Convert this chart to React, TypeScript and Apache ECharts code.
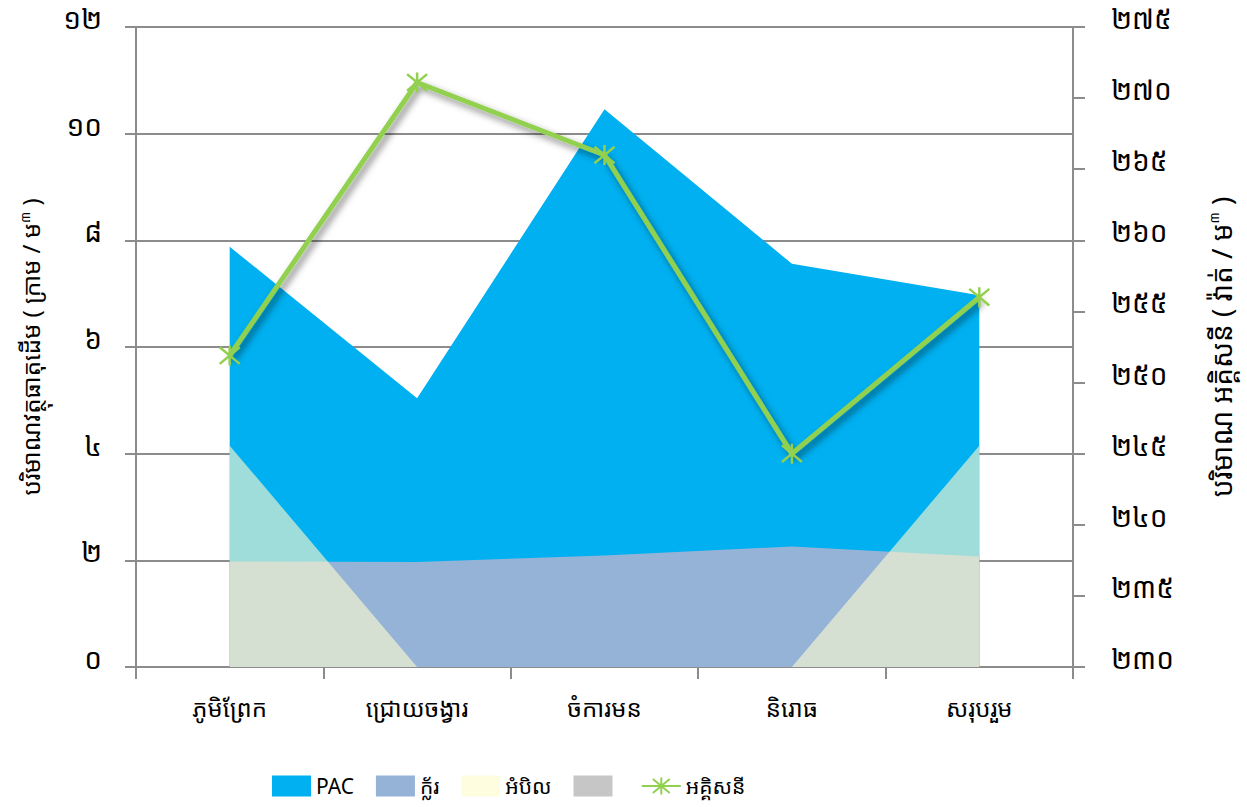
import React, { useEffect, useRef } from "react";
import * as echarts from "echarts";

const categories = ["ភូមិព្រែក", "ជ្រោយចង្វារ", "ចំការមន", "និរោធ", "សរុបរួម"];
const pacValues = [7.88, 5.04, 10.46, 7.56, 6.97];
const chlorineValues = [1.98, 1.97, 2.09, 2.26, 2.07];
const saltValues = [4.15, 0, 0, 0, 4.15];
const otherValues: (number | null)[] = [null, null, null, null, null];
const electricityValues = [251.9, 271.1, 266.0, 245.0, 256.0];

const khmerDigits = ["០", "១", "២", "៣", "៤", "៥", "៦", "៧", "៨", "៩"];
const toKhmer = (v: number) => String(v).split("").map((c) => khmerDigits[+c] ?? c).join("");

const FONT = "'Noto Sans Khmer', 'Khmer OS', 'Noto Sans', sans-serif";
const GRAY = "#8c8c8c";
const ASTERISK = "path://M0,0L10,10M10,0L0,10M5,-1L5,11";
const OTHER_NAME = "\u200A";

export default function App() {
  const ref = useRef<HTMLDivElement>(null);
  useEffect(() => {
    const chart = echarts.init(ref.current!, undefined, { renderer: "svg" });
    const nameRich = { sup: { fontSize: 13, verticalAlign: "top", fontFamily: FONT, color: "#000", padding: [0, 0, 10, 0] } };
    chart.setOption({
      animation: false,
      backgroundColor: "#ffffff",
      grid: { left: 136, right: 174, top: 27, bottom: 140, containLabel: false },
      legend: {
        left: 267,
        top: 768,
        itemWidth: 39,
        itemHeight: 21,
        itemGap: 22,
        textStyle: { fontSize: 21, lineHeight: 26, color: "#000", fontFamily: FONT },
        data: [
          { name: "PAC", icon: "rect" },
          { name: "ក្ល័រ", icon: "rect" },
          { name: "អំបិល", icon: "rect" },
          { name: OTHER_NAME, icon: "rect" },
          { name: "អគ្គិសនី" },
        ],
      },
      xAxis: {
        type: "category",
        data: categories,
        boundaryGap: true,
        axisLine: { lineStyle: { color: GRAY, width: 2 } },
        axisTick: { show: true, length: 12, lineStyle: { color: GRAY, width: 2 } },
        axisLabel: { fontSize: 24, color: "#000", margin: 28, fontFamily: FONT },
        splitLine: { show: false },
      },
      yAxis: [
        {
          type: "value",
          min: 0,
          max: 12,
          interval: 2,
          position: "left",
          name: "បរិមាណវត្ថុធាតុដើម ( ក្រាម / ម{sup|៣} )",
          nameLocation: "middle",
          nameRotate: 90,
          nameGap: 94,
          nameTextStyle: { fontSize: 24, color: "#000", fontFamily: FONT, rich: nameRich },
          axisLine: { show: true, lineStyle: { color: GRAY, width: 2 } },
          axisTick: { show: true, length: 11, lineStyle: { color: GRAY, width: 2 } },
          axisLabel: {
            fontSize: 28,
            color: "#000",
            margin: 34,
            fontFamily: FONT,
            verticalAlign: "bottom",
            lineHeight: 18,
            formatter: (v: number) => toKhmer(v),
          },
          splitLine: { show: true, lineStyle: { color: GRAY, width: 2 } },
        },
        {
          type: "value",
          min: 230,
          max: 275,
          interval: 5,
          position: "right",
          name: "បរិមាណ អគ្គិសនី ( វ៉ាត់ / ម{sup|៣} )",
          nameLocation: "middle",
          nameRotate: 90,
          nameGap: 134,
          nameTextStyle: { fontSize: 28, color: "#000", fontFamily: FONT, rich: nameRich },
          axisLine: { show: true, lineStyle: { color: GRAY, width: 2 } },
          axisTick: { show: true, length: 12, lineStyle: { color: GRAY, width: 2 } },
          axisLabel: {
            fontSize: 28,
            color: "#000",
            margin: 38,
            fontFamily: FONT,
            verticalAlign: "bottom",
            lineHeight: 18,
            formatter: (v: number) => toKhmer(v),
          },
          splitLine: { show: false },
        },
      ],
      series: [
        {
          name: "PAC",
          type: "line",
          data: pacValues,
          symbol: "none",
          lineStyle: { width: 0 },
          itemStyle: { color: "#00B0F0" },
          areaStyle: { color: "#00B0F0", opacity: 1 },
          z: 1,
        },
        {
          name: "ក្ល័រ",
          type: "line",
          data: chlorineValues,
          symbol: "none",
          lineStyle: { width: 0 },
          itemStyle: { color: "#95B3D7" },
          areaStyle: { color: "#95B3D7", opacity: 1 },
          z: 2,
        },
        {
          name: "អំបិល",
          type: "line",
          data: saltValues,
          symbol: "none",
          lineStyle: { width: 0 },
          itemStyle: { color: "#FEFDE0" },
          areaStyle: { color: "rgb(248,247,207)", opacity: 0.64 },
          z: 3,
        },
        {
          name: OTHER_NAME,
          type: "line",
          data: otherValues,
          symbol: "none",
          lineStyle: { width: 0 },
          itemStyle: { color: "#C6C6C6" },
          areaStyle: { color: "#C6C6C6" },
          z: 4,
        },
        {
          name: "អគ្គិសនី",
          type: "line",
          yAxisIndex: 1,
          data: electricityValues,
          symbol: ASTERISK,
          symbolSize: 20,
          showSymbol: true,
          itemStyle: { color: "rgba(0,0,0,0)", borderColor: "#92D050", borderWidth: 2.5 },
          lineStyle: {
            color: "#92D050",
            width: 5,
            shadowColor: "rgba(0,0,0,0.5)",
            shadowBlur: 7,
            shadowOffsetX: 3,
            shadowOffsetY: 4,
          },
          z: 10,
        },
      ],
    });
    return () => chart.dispose();
  }, []);
  return (
    <div
      ref={ref}
      style={{ position: "fixed", left: 0, top: 0, width: 1247, height: 807, background: "#fff" }}
    />
  );
}
